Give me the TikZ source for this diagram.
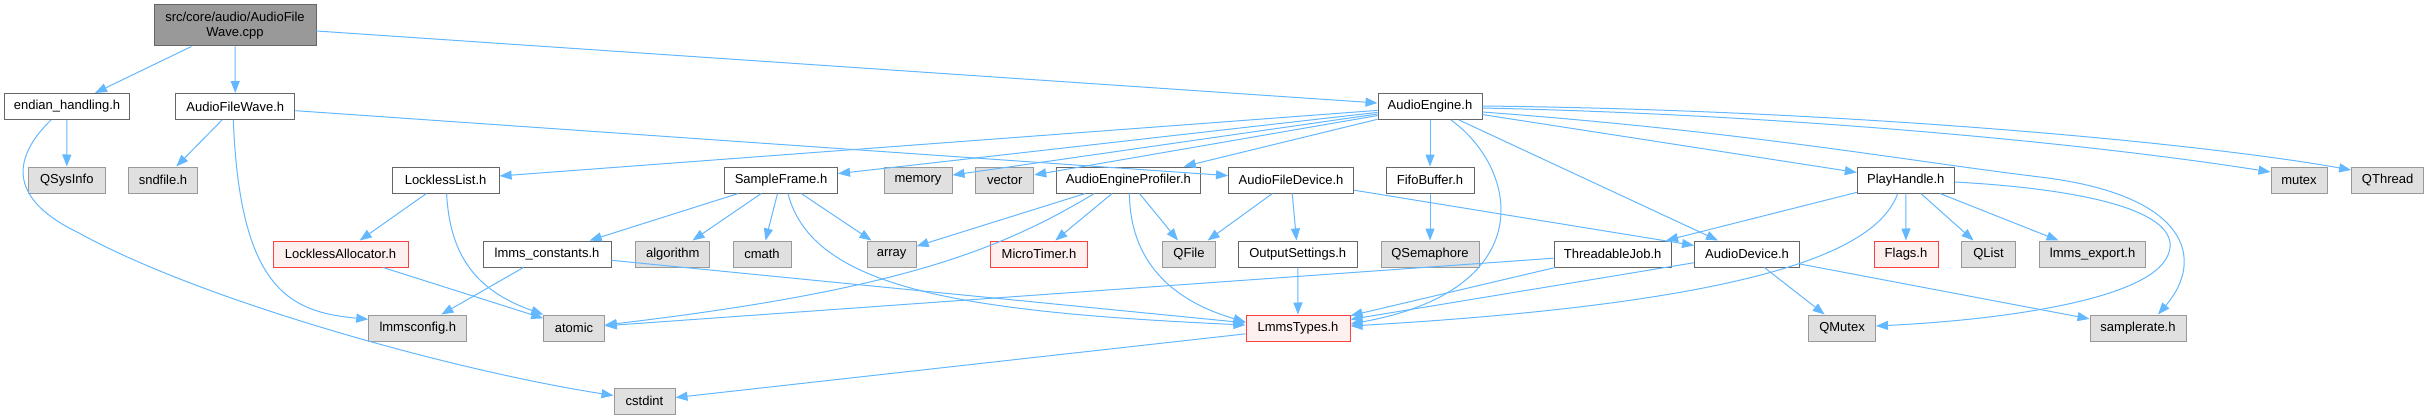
\documentclass[tikz,border=0pt]{standalone}
\usepackage{fontspec}
\setmainfont{Liberation Sans}
\usetikzlibrary{arrows.meta}
\definecolor{edgeblue}{HTML}{63B8FF}
\definecolor{intborder}{HTML}{666666}
\definecolor{extborder}{HTML}{999999}
\definecolor{extfill}{HTML}{E0E0E0}
\definecolor{trborder}{HTML}{FF4040}
\definecolor{trfill}{HTML}{FFF0F0}
\definecolor{rootfill}{HTML}{999999}
\begin{document}
\begin{tikzpicture}[x=1pt,y=-1pt,
  box/.style={draw=intborder, fill=white, rectangle, minimum height=26pt, inner sep=0pt,
    line width=1pt, font=\fontsize{13}{15}\selectfont, text=black},
  ext/.style={box, draw=extborder, fill=extfill},
  trunc/.style={box, draw=trborder, fill=trfill},
  rootbox/.style={box, fill=rootfill, minimum height=41pt, align=center},
  dep/.style={draw=edgeblue, line width=1pt, -{Triangle[length=12pt,width=9pt]}}]
\fill[white] (0,0) rectangle (2429,420);
\useasboundingbox (0,0) rectangle (2429,420);

% row 1
\node[rootbox, minimum width=162pt] (root) at (235,25.5) {src/core/audio/AudioFile\\Wave.cpp};
% row 2
\node[box, minimum width=125pt] (endian) at (67,106.5) {endian\_handling.h};
\node[box, minimum width=119pt] (afw) at (235.3,106.5) {AudioFileWave.h};
\node[box, minimum width=104pt] (ae) at (1430,106.5) {AudioEngine.h};
% row 3
\node[ext, minimum width=77pt] (qsysinfo) at (66.8,180) {QSysInfo};
\node[ext, minimum width=69pt] (sndfile) at (163,180) {sndfile.h};
\node[box, minimum width=107pt] (llist) at (445.6,180) {LocklessList.h};
\node[box, minimum width=113pt] (sframe) at (781,180) {SampleFrame.h};
\node[ext, minimum width=68pt] (memory) at (918,180) {memory};
\node[ext, minimum width=58pt] (vector) at (1004.7,180) {vector};
\node[box, minimum width=143.5pt] (aep) at (1128.4,180) {AudioEngineProfiler.h};
\node[box, minimum width=125pt] (afd) at (1291,180) {AudioFileDevice.h};
\node[box, minimum width=88pt] (fifo) at (1430,180) {FifoBuffer.h};
\node[box, minimum width=97pt] (phandle) at (1905.8,180) {PlayHandle.h};
\node[ext, minimum width=56pt] (mutex) at (2299,180) {mutex};
\node[ext, minimum width=72pt] (qthread) at (2387.6,180) {QThread};
% row 4
\node[trunc, minimum width=135pt] (lalloc) at (340.5,254) {LocklessAllocator.h};
\node[box, minimum width=128pt] (lconst) at (547,254) {lmms\_constants.h};
\node[ext, minimum width=74pt] (algorithm) at (672.8,254) {algorithm};
\node[ext, minimum width=58pt] (cmath) at (762,254) {cmath};
\node[ext, minimum width=49pt] (array) at (891.6,254) {array};
\node[trunc, minimum width=97pt] (mtimer) at (1039,254) {MicroTimer.h};
\node[ext, minimum width=53pt] (qfile) at (1189,254) {QFile};
\node[box, minimum width=119pt] (osettings) at (1297.7,254) {OutputSettings.h};
\node[ext, minimum width=98pt] (qsem) at (1430,254) {QSemaphore};
\node[box, minimum width=117pt] (tjob) at (1612.6,254) {ThreadableJob.h};
\node[box, minimum width=105pt] (adev) at (1747,254) {AudioDevice.h};
\node[trunc, minimum width=64pt] (flags) at (1906,254) {Flags.h};
\node[ext, minimum width=54pt] (qlist) at (1988.5,254) {QList};
\node[ext, minimum width=105.5pt] (lexport) at (2092.6,254) {lmms\_export.h};
% row 5
\node[ext, minimum width=98pt] (lconfig) at (417.8,328) {lmmsconfig.h};
\node[ext, minimum width=60.5pt] (atomic) at (574,328) {atomic};
\node[trunc, minimum width=104pt] (ltypes) at (1298,328) {LmmsTypes.h};
\node[ext, minimum width=67pt] (qmutex) at (1842,328) {QMutex};
\node[ext, minimum width=96pt] (srate) at (2138,328) {samplerate.h};
% row 6
\node[ext, minimum width=61pt] (cstdint) at (644.5,401) {cstdint};

% edges from root
\draw[dep] (root) -- (endian);
\draw[dep] (root) -- (afw);
\draw[dep] (root) -- (ae);
% endian_handling.h
\draw[dep] (endian) -- (qsysinfo);
\draw[dep] ([xshift=-16pt]endian.south) .. controls (10,160) and (10,200) .. (79,233)
   .. controls (200,300) and (450,370) .. (cstdint.170);
% AudioFileWave.h
\draw[dep] (afw) -- (sndfile);
\draw[dep] ([xshift=-2pt]afw.south) .. controls (240,290) and (290,312) .. (lconfig.170);
\draw[dep] (afw) -- (afd);
% AudioEngine.h
\draw[dep] (ae) -- (llist);
\draw[dep] (ae) -- (sframe);
\draw[dep] (ae) -- (memory);
\draw[dep] (ae) -- (vector);
\draw[dep] (ae) -- (aep);
\draw[dep] (ae) -- (fifo);
\draw[dep] ([xshift=21pt]ae.south) .. controls (1520,170) and (1540,290) .. ([yshift=4pt]ltypes.east);
\draw[dep] (ae) -- (adev);
\draw[dep] (ae) -- (phandle);
\draw[dep] ([yshift=-5.5pt]ae.east) .. controls (1750,132) and (1900,160) .. (2040,177)
   .. controls (2190,195) and (2205,260) .. ([xshift=20pt]srate.north);
\draw[dep] ([yshift=-1.5pt]ae.east) .. controls (1800,115) and (2100,145) .. ([yshift=8pt]mutex.west);
\draw[dep] ([yshift=0.5pt]ae.east) .. controls (1850,110) and (2200,143) .. ([yshift=10pt]qthread.west);
% LocklessList.h
\draw[dep] (llist) -- (lalloc);
\draw[dep] ([xshift=1pt]llist.south) .. controls (450,260) and (480,292) .. (atomic.north west);
\draw[dep] (lalloc) -- (atomic);
% SampleFrame.h
\draw[dep] (sframe) -- (lconst);
\draw[dep] (sframe) -- (algorithm);
\draw[dep] (sframe) -- (cmath);
\draw[dep] (sframe) -- (array);
\draw[dep] ([xshift=7pt]sframe.south) .. controls (812,288) and (960,312) .. ([yshift=3pt]ltypes.west);
% lmms_constants.h
\draw[dep] (lconst) -- (lconfig);
\draw[dep] (lconst) -- (ltypes);
% AudioEngineProfiler.h
\draw[dep] (aep) -- (array);
\draw[dep] ([xshift=-34pt]aep.south) .. controls (1000,250) and (900,290) .. ([yshift=3pt]atomic.east);
\draw[dep] (aep) -- (mtimer);
\draw[dep] (aep) -- (qfile);
\draw[dep] ([xshift=1pt]aep.south) .. controls (1130,260) and (1170,300) .. ([yshift=6pt]ltypes.west);
% AudioFileDevice.h
\draw[dep] (afd) -- (qfile);
\draw[dep] (afd) -- (osettings);
\draw[dep] (afd) -- (adev);
% OutputSettings.h, FifoBuffer.h
\draw[dep] (osettings) -- (ltypes);
\draw[dep] (fifo) -- (qsem);
% PlayHandle.h
\draw[dep] (phandle) -- (tjob);
\draw[dep] (phandle) -- (flags);
\draw[dep] (phandle) -- (qlist);
\draw[dep] (phandle) -- (lexport);
\draw[dep] ([xshift=-8pt]phandle.south) .. controls (1880,240) and (1800,300) .. ([yshift=2pt]ltypes.east);
\draw[dep] ([yshift=-2pt]phandle.east) .. controls (2100,190) and (2185,215) .. (2168,255)
   .. controls (2150,300) and (2000,320) .. ([yshift=2pt]qmutex.east);
% ThreadableJob.h
\draw[dep] (tjob) -- (atomic);
\draw[dep] (tjob) -- (ltypes);
% AudioDevice.h
\draw[dep] (adev) -- (ltypes);
\draw[dep] (adev) -- (qmutex);
\draw[dep] (adev) -- (srate);
% LmmsTypes.h
\draw[dep] (ltypes) -- (cstdint);
\end{tikzpicture}
\end{document}
